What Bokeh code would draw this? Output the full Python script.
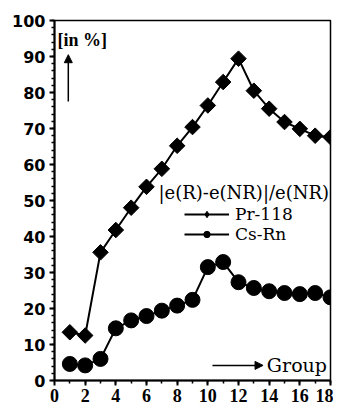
import math
from bokeh.plotting import figure
from bokeh.models import Legend, LegendItem, Label, Arrow, NormalHead, FixedTicker, Range1d
from bokeh.embed import file_html
from bokeh.resources import INLINE

groups = list(range(1, 19))
pr118 = [13.4, 12.5, 35.6, 41.8, 48.0, 53.8, 58.8, 65.2, 70.4, 76.4, 82.9, 89.4, 80.5, 75.5, 71.8, 69.9, 68.0, 67.6]
csrn = [4.6, 4.2, 6.0, 14.5, 16.7, 17.9, 19.4, 20.8, 22.4, 31.5, 32.9, 27.3, 25.7, 24.8, 24.3, 24.0, 24.3, 23.1]
xticks = list(range(0, 19, 2))
yticks = list(range(0, 101, 10))
yminor = list(range(0, 101, 2))

FW, FH = 277, 360
p = figure(width=333, height=408, output_backend="svg", toolbar_location=None,
           x_range=Range1d(0, 18), y_range=Range1d(0, 100),
           min_border_left=54, min_border_right=3, min_border_top=20, min_border_bottom=28)
p.grid.visible = False
p.outline_line_color = "black"
p.outline_line_width = 1.5
p.background_fill_color = "white"
p.border_fill_color = "white"

p.xaxis.ticker = FixedTicker(ticks=xticks, minor_ticks=groups)
p.yaxis.ticker = FixedTicker(ticks=yticks, minor_ticks=yminor)
for ax in (p.xaxis[0], p.yaxis[0]):
    ax.axis_line_width = 2
    ax.axis_line_color = "black"
    ax.major_tick_line_width = 2
    ax.minor_tick_line_width = 1.5
    ax.major_tick_in = 0
    ax.major_tick_out = 5
    ax.minor_tick_in = 0
    ax.minor_tick_out = 3
    ax.major_label_text_color = "black"
p.yaxis.major_label_text_font = "DejaVu Sans"
p.yaxis.major_label_text_font_style = "bold"
p.yaxis.major_label_text_font_size = "16px"
p.xaxis.major_label_text_font = "Liberation Serif"
p.xaxis.major_label_text_font_style = "bold"
p.xaxis.major_label_text_font_size = "18px"
p.xaxis.major_label_standoff = 3
p.yaxis.major_label_standoff = 4

r1 = p.line(groups, pr118, line_color="black", line_width=2)
s1 = p.scatter(groups, pr118, marker="square", size=11, angle=math.pi / 4,
               fill_color="black", line_color="black")
r2 = p.line(groups, csrn, line_color="black", line_width=2)
s2 = p.scatter(groups, csrn, marker="circle", size=15, fill_color="black", line_color="black")

# legend-only glyphs (not visible in the plot area)
nan = float("nan")
lg1 = p.scatter([nan], [nan], marker="diamond", size=14, fill_color="black", line_color="black")
lg2 = p.scatter([nan], [nan], marker="circle", size=11, fill_color="black", line_color="black")

legend = Legend(items=[LegendItem(label="Pr-118", renderers=[r1, lg1]),
                       LegendItem(label="Cs-Rn", renderers=[r2, lg2])],
                location=(130, 136))
legend.label_text_font = "DejaVu Serif"
legend.label_text_font_size = "17px"
legend.label_text_color = "black"
legend.label_height = 16
legend.glyph_width = 45
legend.glyph_height = 16
legend.spacing = 0
legend.padding = 2
legend.border_line_color = None
legend.background_fill_alpha = 0
legend.label_standoff = 6
legend.margin = 0
p.add_layout(legend, "center")

p.add_layout(Label(x=104, y=188, x_units="screen", y_units="screen", text="|e(R)-e(NR)|/e(NR)",
                   text_font="DejaVu Serif", text_font_size="18px", text_baseline="middle",
                   text_color="black"))

p.add_layout(Label(x=3, y=FH - 9, x_units="screen", y_units="screen", text="[in %]",
                   text_font="Liberation Serif", text_font_style="bold", text_font_size="18px",
                   text_baseline="top", text_color="black"))

p.add_layout(Arrow(x_start=0.9, y_start=77.5, x_end=0.9, y_end=90.5, line_width=1.5,
                   end=NormalHead(size=8, fill_color="black", line_color="black")))
p.add_layout(Arrow(x_start=10.3, y_start=4.2, x_end=13.6, y_end=4.2, line_width=1.5,
                   end=NormalHead(size=8, fill_color="black", line_color="black")))
p.add_layout(Label(x=13.85, y=4.2, text="Group", text_font="DejaVu Serif", text_font_size="19px",
                   text_baseline="middle", text_color="black"))

open("out.html", "w").write(file_html(p, INLINE))
